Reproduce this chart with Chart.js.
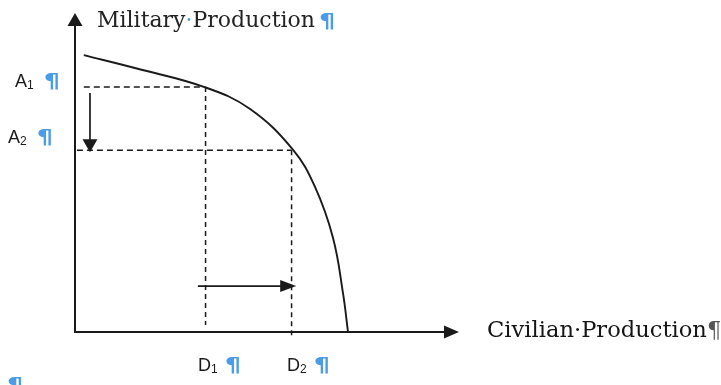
<!DOCTYPE html>
<html><head><meta charset="utf-8">
<script src="https://cdn.jsdelivr.net/npm/chart.js@4"></script>
<style>html,body{margin:0;padding:0;background:#fff}</style>
</head><body>
<canvas id="c" width="721" height="385"></canvas>
<script>
// Production possibilities frontier (values in % of the axis range)
const civilian = [2.3, 16.1, 33.9, 45.6, 56.8, 62.5, 67.2, 69.8, 71.1];
const military = [86.8, 82.6, 76.7, 69.9, 57.1, 45.5, 29.5, 12.1, 0];
// guide levels
const levelNames = ['A', 'A'];
const levelSubs = ['1', '2'];
const levelValues = [76.8, 57];
const shiftNames = ['D', 'D'];
const shiftSubs = ['1', '2'];
const shiftValues = [34, 56.4];
const axisTitles = ['Military', 'Production', 'Civilian'];

const BLUE = '#4a9be8';
const INK = '#1a1a1a';

const curve = civilian.map((x, i) => ({x: x, y: military[i]}));

function arrowHead(ctx, x1, y1, x2, y2, len, half) {
  const a = Math.atan2(y2 - y1, x2 - x1);
  ctx.beginPath();
  ctx.moveTo(x2, y2);
  ctx.lineTo(x2 - len * Math.cos(a) + half * Math.sin(a), y2 - len * Math.sin(a) - half * Math.cos(a));
  ctx.lineTo(x2 - len * Math.cos(a) - half * Math.sin(a), y2 - len * Math.sin(a) + half * Math.cos(a));
  ctx.closePath();
  ctx.fill();
}
function arrow(ctx, x1, y1, x2, y2, w, len, half) {
  const a = Math.atan2(y2 - y1, x2 - x1);
  ctx.lineWidth = w;
  ctx.beginPath();
  ctx.moveTo(x1, y1);
  ctx.lineTo(x2 - (len - 1) * Math.cos(a), y2 - (len - 1) * Math.sin(a));
  ctx.stroke();
  arrowHead(ctx, x1, y1, x2, y2, len, half);
}
function runs(ctx, x, y, parts) {
  let cx = x;
  parts.forEach(p => {
    ctx.font = p.f;
    ctx.fillStyle = p.c;
    const sx = p.sx || 1;
    ctx.save();
    ctx.translate(cx, y + (p.dy || 0));
    ctx.scale(sx, 1);
    ctx.fillText(p.t, 0, 0);
    ctx.restore();
    cx += ctx.measureText(p.t).width * sx + (p.gap || 0);
  });
}

const LAB = '18px "Liberation Sans"';
const SUB = '12px "Liberation Sans"';
const PIL = 'bold 19px "DejaVu Sans"';
const SERIF = '22px "DejaVu Serif"';
const SERIF2 = '22.6px "DejaVu Serif"';
const PILCROW = {t: '\u00B6', f: PIL, c: BLUE, sx: 1.35};

const diagram = {
  id: 'diagram',
  beforeDatasetsDraw(chart) {
    const ctx = chart.ctx;
    const X = chart.scales.x, Y = chart.scales.y;
    const px = v => X.getPixelForValue(v), py = v => Y.getPixelForValue(v);
    ctx.save();
    ctx.strokeStyle = INK; ctx.fillStyle = INK;
    // axes with arrow heads
    arrow(ctx, px(0), py(0) + 1, px(0), py(100), 2, 13, 7.5);
    arrow(ctx, px(0) - 1, py(0), px(100), py(0), 2, 15, 6.5);
    // dashed guides
    ctx.lineWidth = 1.5;
    ctx.setLineDash([6, 4]);
    const hStart = [civilian[0], 0.5];
    const vEnd = [2.2, -1.9];
    levelValues.forEach((lv, i) => {
      ctx.beginPath();
      ctx.moveTo(px(hStart[i]), py(lv));
      ctx.lineTo(px(shiftValues[i]), py(lv));
      ctx.stroke();
    });
    ctx.setLineDash([5, 4]);
    shiftValues.forEach((sv, i) => {
      ctx.beginPath();
      ctx.moveTo(px(sv), py(levelValues[i]));
      ctx.lineTo(px(sv), py(vEnd[i]));
      ctx.stroke();
    });
    ctx.setLineDash([]);
    // shift arrows
    arrow(ctx, px(3.9), py(74.9), px(3.9), py(levelValues[1]) + 2, 1.7, 13, 7.5);
    arrow(ctx, px(32), py(14.4), px(57.6), py(14.4), 1.7, 16, 6);
    ctx.restore();
  },
  afterDraw(chart) {
    const ctx = chart.ctx;
    ctx.save();
    ctx.textBaseline = 'alphabetic';
    // axis titles
    runs(ctx, 97, 27, [
      {t: axisTitles[0], f: SERIF, c: '#222'},
      {t: '\u00B7', f: SERIF, c: BLUE},
      {t: axisTitles[1], f: SERIF, c: '#222', gap: 4},
      PILCROW
    ]);
    runs(ctx, 487, 337, [
      {t: axisTitles[2] + '\u00B7' + axisTitles[1], f: SERIF2, c: '#151515'},
      {t: '\u00B6', f: SERIF2, c: '#555'}
    ]);
    // level labels
    const lpos = [[15, 87], [8, 143]];
    levelNames.forEach((n, i) => {
      runs(ctx, lpos[i][0], lpos[i][1], [
        {t: n, f: LAB, c: INK},
        {t: levelSubs[i], f: SUB, c: INK, dy: 2, gap: 10},
        PILCROW
      ]);
    });
    const dpos = [[198, 371], [287, 371]];
    shiftNames.forEach((n, i) => {
      runs(ctx, dpos[i][0], dpos[i][1], [
        {t: n, f: LAB, c: INK},
        {t: shiftSubs[i], f: SUB, c: INK, dy: 2, gap: 7},
        PILCROW
      ]);
    });
    runs(ctx, 7, 391, [PILCROW]);
    ctx.restore();
  }
};

new Chart(document.getElementById('c'), {
  type: 'scatter',
  data: {
    datasets: [{
      data: curve,
      showLine: true,
      borderColor: INK,
      borderWidth: 1.9,
      pointRadius: 0,
      tension: 0.4,
      fill: false
    }]
  },
  options: {
    responsive: false,
    animation: false,
    devicePixelRatio: 1,
    layout: {padding: {left: 75, right: 262, top: 13, bottom: 53}},
    plugins: {legend: {display: false}, tooltip: {enabled: false}, title: {display: false}},
    scales: {
      x: {type: 'linear', min: 0, max: 100, display: false},
      y: {type: 'linear', min: 0, max: 100, display: false}
    }
  },
  plugins: [diagram]
});
</script>
</body></html>
